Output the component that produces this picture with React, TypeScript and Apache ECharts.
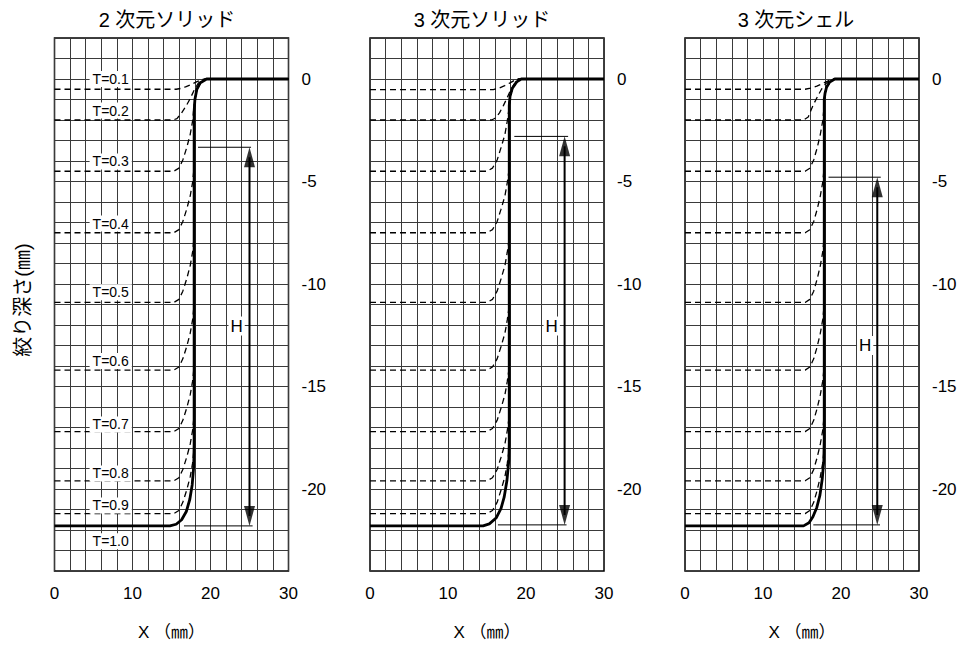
import React, { useEffect, useRef } from "react";
import * as echarts from "echarts";

// ---------- texts ----------
const panelTitles = ["2 次元ソリッド", "3 次元ソリッド", "3 次元シェル"];
const xAxisName = "X （㎜）";
const yAxisName = "絞り深さ(㎜)";
const stageLabels = ["T=0.1", "T=0.2", "T=0.3", "T=0.4", "T=0.5", "T=0.6", "T=0.7", "T=0.8", "T=0.9", "T=1.0"];
const stageLabelDepth = [0, -1.54, -4.02, -7.05, -10.4, -13.76, -16.85, -19.24, -20.8, -22.55];
const stageLabelX = 4.5;

// ---------- axes ----------
const xMin = 0, xMax = 30, xStep = 2;
const yMin = -24, yMax = 2, yStep = 1;

// ---------- final (T=1.0) profile: bottom part + wall/top part per panel ----------
const bottom1X = [0, 14.8, 15.6, 16.3, 16.9, 17.35, 17.65, 17.85, 17.9];
const bottom1Y = [-21.8, -21.8, -21.72, -21.5, -21.1, -20.5, -19.8, -18.9, -17.8];
const top1X = [17.9, 18.0, 18.25, 18.7, 19.5, 30];
const top1Y = [-1.6, -1.0, -0.5, -0.18, 0, 0];

const bottom2X = [0, 14.5, 15.3, 16.2, 16.8, 17.2, 17.55, 17.8, 17.85];
const bottom2Y = [-21.8, -21.8, -21.7, -21.4, -20.95, -20.4, -19.6, -18.6, -17.8];
const top2X = [17.85, 17.95, 18.25, 18.8, 19.4, 30];
const top2Y = [-1.3, -0.85, -0.45, -0.14, 0, 0];

const bottom3X = [0, 15.2, 15.9, 16.4, 16.9, 17.3, 17.6, 17.8, 17.85];
const bottom3Y = [-21.8, -21.8, -21.65, -21.35, -20.9, -20.3, -19.5, -18.6, -17.5];
const top3X = [17.85, 17.95, 18.15, 18.55, 19.2, 30];
const top3Y = [-1.0, -0.7, -0.4, -0.15, 0, 0];

// ---------- T=0.1 and T=0.2 profiles ----------
const t01X1 = [0, 15.6, 16.2, 16.8, 17.5, 18.2, 18.8, 19.3, 30];
const t01Y1 = [-0.5, -0.5, -0.46, -0.38, -0.27, -0.14, -0.04, 0, 0];
const t02X1 = [0, 15.2, 15.7, 16.3, 16.9, 17.4, 17.9, 18.4, 18.9, 19.4, 30];
const t02Y1 = [-2, -2, -1.93, -1.65, -1.3, -0.95, -0.55, -0.22, -0.05, 0, 0];

const t01X2 = [0, 15.8, 16.5, 17.2, 17.9, 18.5, 19.0, 30];
const t01Y2 = [-0.52, -0.52, -0.45, -0.34, -0.2, -0.07, 0, 0];
const t02X2 = [0, 15.6, 16.1, 16.6, 17.1, 17.5, 17.9, 18.4, 19.0, 30];
const t02Y2 = [-2, -2, -1.9, -1.65, -1.3, -0.98, -0.65, -0.3, 0, 0];

const t01X3 = [0, 15.4, 16.1, 16.9, 17.6, 18.3, 19.0, 30];
const t01Y3 = [-0.5, -0.5, -0.44, -0.35, -0.23, -0.1, 0, 0];
const t02X3 = [0, 15.2, 15.8, 16.4, 17.0, 17.5, 18.0, 18.5, 19.1, 30];
const t02Y3 = [-2, -2, -1.85, -1.3, -0.85, -0.5, -0.25, -0.08, 0, 0];

// ---------- T=0.3..0.9: flat depth + corner ----------
const stageDepths = [-4.5, -7.5, -10.9, -14.2, -17.2, -19.6, -21.2];
const cornerX1 = [15.3, 15.95, 16.45, 16.95, 17.4, 17.7, 17.85];
const cornerX2 = [15.0, 15.7, 16.3, 16.8, 17.3, 17.6, 17.8];
const cornerX3 = [15.4, 16.0, 16.5, 16.95, 17.35, 17.65, 17.8];
const cornerRise = [0, 0.15, 0.55, 1.15, 1.8, 2.45, 3.0];

// ---------- H dimension ----------
const hTopY = [-3.33, -2.8, -4.79];
const hBottomY = [-21.8, -21.75, -21.75];
const hTopTickX = [[18.4, 25.2], [18.5, 25.4], [18.4, 25.1]];
const hBottomTickX = [[16.6, 25.4], [16.4, 25.2], [16.45, 25.0]];
const hArrowX = [25.0, 24.95, 24.65];
const hLabelX = [23.35, 23.3, 23.1];
const hLabelY = [-12.05, -12.05, -13.0];

// ---------- layout ----------
const gridLeft = [54.5, 370, 685];
const gridTop = 38;
const gridWidth = 234;
const gridHeight = 534.5;
const titleCenterX = [167, 482, 796];

const latin = "'Liberation Sans', Arial, sans-serif";
const cjk = "'Liberation Sans', 'Noto Sans CJK JP', sans-serif";

const zip = (xs: number[], ys: number[]) => xs.map((x, i) => [x, ys[i]]);

const panelData = [
  { bx: bottom1X, by: bottom1Y, tx: top1X, ty: top1Y, a1x: t01X1, a1y: t01Y1, a2x: t02X1, a2y: t02Y1, cx: cornerX1 },
  { bx: bottom2X, by: bottom2Y, tx: top2X, ty: top2Y, a1x: t01X2, a1y: t01Y2, a2x: t02X2, a2y: t02Y2, cx: cornerX2 },
  { bx: bottom3X, by: bottom3Y, tx: top3X, ty: top3Y, a1x: t01X3, a1y: t01Y3, a2x: t02X3, a2y: t02Y3, cx: cornerX3 },
];

function buildOption() {
  const pxPerUnit = gridHeight / (yMax - yMin);
  const headW = 11, headH = 20;
  const headOff = headH / 2 / pxPerUnit;

  const dashed = { color: "#000", width: 1.3, type: [6, 4] as any };
  const series: any[] = [];

  panelData.forEach((pd, p) => {
    const common = { xAxisIndex: p, yAxisIndex: p, silent: true, animation: false };
    const lineBase = { type: "line", ...common, showSymbol: false, symbol: "none" };

    series.push({ ...lineBase, data: zip(pd.a1x, pd.a1y), lineStyle: dashed, z: 3 });
    series.push({ ...lineBase, data: zip(pd.a2x, pd.a2y), lineStyle: dashed, z: 3 });
    stageDepths.forEach((d) => {
      const pts: number[][] = [[0, d]];
      pd.cx.forEach((x, i) => pts.push([x, d + cornerRise[i]]));
      const lastY = d + cornerRise[cornerRise.length - 1];
      pd.tx.forEach((x, i) => {
        if (pd.ty[i] > lastY) pts.push([x, pd.ty[i]]);
      });
      series.push({ ...lineBase, data: pts, lineStyle: dashed, z: 3 });
    });

    // final profile
    series.push({
      ...lineBase,
      data: zip(pd.bx.concat(pd.tx), pd.by.concat(pd.ty)),
      lineStyle: { color: "#000", width: 2.8 },
      z: 4,
    });

    // H dimension ticks
    series.push({
      ...lineBase,
      data: [[hTopTickX[p][0], hTopY[p]], [hTopTickX[p][1], hTopY[p]]],
      lineStyle: { color: "#000", width: 1 },
      z: 4,
    });
    series.push({
      ...lineBase,
      data: [[hBottomTickX[p][0], hBottomY[p]], [hBottomTickX[p][1], hBottomY[p]]],
      lineStyle: { color: "#000", width: 1 },
      z: 4,
    });
    // shaft
    series.push({
      ...lineBase,
      data: [[hArrowX[p], hTopY[p] - headOff], [hArrowX[p], hBottomY[p] + headOff]],
      lineStyle: { color: "#000", width: 2 },
      z: 4,
    });
    // heads
    series.push({
      type: "scatter",
      ...common,
      symbol: "triangle",
      symbolSize: [headW, headH],
      itemStyle: { color: "#000" },
      data: [
        { value: [hArrowX[p], hTopY[p] - headOff], symbolRotate: 0 },
        { value: [hArrowX[p], hBottomY[p] + headOff], symbolRotate: 180 },
      ],
      z: 5,
    });
    // H label
    series.push({
      type: "scatter",
      ...common,
      symbolSize: 0,
      itemStyle: { color: "#000", opacity: 1 },
      data: [{ name: "H", value: [hLabelX[p], hLabelY[p]] }],
      label: {
        show: true,
        position: "inside",
        formatter: "{b}",
        color: "#000",
        opacity: 1,
        fontSize: 17,
        fontFamily: latin,
        backgroundColor: "#fff",
        padding: [1, 2],
      },
      z: 6,
    });
  });

  // stage labels on the first panel
  series.push({
    type: "scatter",
    xAxisIndex: 0,
    yAxisIndex: 0,
    silent: true,
    symbolSize: 0,
    itemStyle: { color: "#000", opacity: 1 },
    data: stageLabels.map((t, i) => ({ name: t, value: [stageLabelX, stageLabelDepth[i]] })),
    label: {
      show: true,
      position: "right",
      distance: 0,
      formatter: "{b}",
      color: "#000",
      opacity: 1,
      fontSize: 14,
      fontFamily: latin,
      backgroundColor: "#fff",
      padding: [1, 3],
    },
    z: 6,
  });

  const gridLine = { show: true, lineStyle: { color: "#3a3a3a", width: 1 } };

  return {
    animation: false,
    backgroundColor: "#fff",
    grid: [0, 1, 2].map((p) => ({
      left: gridLeft[p],
      top: gridTop,
      width: gridWidth,
      height: gridHeight,
      show: true,
      borderColor: "#000",
      borderWidth: 1.5,
      backgroundColor: "transparent",
      containLabel: false,
    })),
    xAxis: [0, 1, 2].map((p) => ({
      type: "value",
      gridIndex: p,
      min: xMin,
      max: xMax,
      interval: xStep,
      axisLine: { show: false },
      axisTick: { show: false },
      splitLine: gridLine,
      axisLabel: {
        color: "#000",
        fontSize: 17,
        fontFamily: latin,
        margin: 14,
        formatter: (v: number) => (v % 10 === 0 ? String(v) : ""),
      },
      name: xAxisName,
      nameLocation: "middle",
      nameGap: 53,
      nameTextStyle: { color: "#000", fontSize: 17, fontFamily: cjk },
    })),
    yAxis: [0, 1, 2].map((p) => ({
      type: "value",
      gridIndex: p,
      position: "right",
      min: yMin,
      max: yMax,
      interval: yStep,
      axisLine: { show: false },
      axisTick: { show: false },
      splitLine: gridLine,
      axisLabel: {
        color: "#000",
        fontSize: 17,
        fontFamily: latin,
        margin: 13,
        formatter: (v: number) => (v % 5 === 0 ? String(v) : ""),
      },
    })),
    graphic: [
      ...panelTitles.map((t, p) => ({
        type: "text",
        x: titleCenterX[p],
        y: 20,
        silent: true,
        style: {
          text: t,
          fill: "#000",
          fontSize: 20,
          fontFamily: cjk,
          textAlign: "center",
          textVerticalAlign: "middle",
        },
      })),
      {
        type: "text",
        x: 23,
        y: 300,
        rotation: Math.PI / 2,
        silent: true,
        style: {
          text: yAxisName,
          fill: "#000",
          fontSize: 20,
          fontFamily: cjk,
          textAlign: "center",
          textVerticalAlign: "middle",
        },
      },
    ],
    series,
  };
}

export default function App() {
  const ref = useRef<HTMLDivElement>(null);
  useEffect(() => {
    if (!ref.current) return;
    const chart = echarts.init(ref.current, undefined, { renderer: "svg" });
    chart.setOption(buildOption() as any);
    return () => chart.dispose();
  }, []);
  return (
    <div
      ref={ref}
      style={{ position: "absolute", left: 0, top: 0, width: 963, height: 646, background: "#fff" }}
    />
  );
}
